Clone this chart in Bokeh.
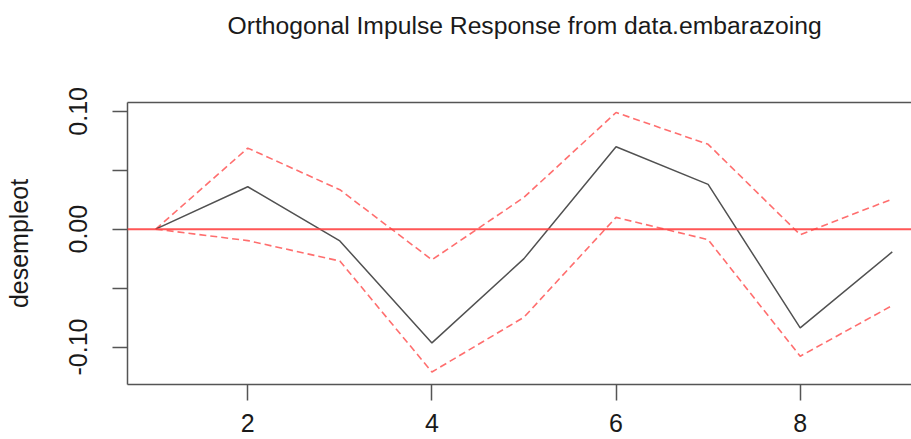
from bokeh.plotting import figure
from bokeh.models import (ColumnDataSource, Range1d, FixedTicker, LinearAxis,
                          CustomJSTickFormatter, Span)
from bokeh.embed import file_html
from bokeh.resources import INLINE

# ---- data ----
steps = [1, 2, 3, 4, 5, 6, 7, 8, 9]
irf   = [0.0, 0.036, -0.010, -0.0965, -0.025, 0.070, 0.038, -0.0837, -0.0193]
upper = [0.0, 0.0688, 0.0335, -0.026, 0.027, 0.099, 0.072, -0.0047, 0.0256]
lower = [0.0, -0.0097, -0.027, -0.1212, -0.0747, 0.010, -0.0089, -0.1078, -0.0648]
baseline = 0.0
x_ticks = [2, 4, 6, 8]
y_ticks = [-0.10, -0.05, 0.0, 0.05, 0.10]
title_text = "Orthogonal Impulse Response from data.embarazoing"
y_label = "desempleot"

FONT = "Liberation Sans"
Y_LO, Y_HI = -0.1318, 0.1075

src = ColumnDataSource(dict(x=steps, irf=irf, upper=upper, lower=lower))

p = figure(width=911, height=439, output_backend="svg", toolbar_location=None,
           x_range=Range1d(0.6937, 9.2089), y_range=Range1d(Y_LO, Y_HI),
           x_axis_location=None, y_axis_location=None,
           min_border_left=127, min_border_right=0, min_border_top=102,
           min_border_bottom=55)
p.outline_line_color = None
p.xgrid.visible = False
p.ygrid.visible = False
p.background_fill_color = "white"
p.border_fill_color = "white"

# title
p.title.text = title_text
p.title.align = "left"
p.title.offset = 100
p.title.text_font = FONT
p.title.text_font_size = "24.7px"
p.title.text_font_style = "normal"
p.title.text_color = "#1a1a1a"
p.title.standoff = 0

AX_COL = "#555555"

# bottom axis
xa = LinearAxis(ticker=FixedTicker(ticks=x_ticks))
xa.axis_line_color = AX_COL
xa.axis_line_width = 1.5
xa.major_tick_line_color = AX_COL
xa.major_tick_line_width = 1.5
xa.major_tick_in = 0
xa.major_tick_out = 16
xa.minor_tick_line_color = None
xa.major_label_standoff = 13
xa.major_label_text_line_height = 0.6
xa.major_label_text_font = FONT
xa.major_label_text_font_size = "25px"
xa.major_label_text_color = "#1a1a1a"
p.add_layout(xa, "below")

# left axis
ya = LinearAxis(ticker=FixedTicker(ticks=y_ticks))
ya.formatter = CustomJSTickFormatter(code="""
    if (Math.abs(Math.abs(tick) - 0.05) < 1e-9) { return ""; }
    return tick.toFixed(2);
""")
ya.axis_line_color = AX_COL
ya.axis_line_width = 1.5
ya.major_tick_line_color = AX_COL
ya.major_tick_line_width = 1.5
ya.major_tick_in = 0
ya.major_tick_out = 15
ya.minor_tick_line_color = None
ya.major_label_orientation = "vertical"
ya.major_label_standoff = 25
ya.major_label_text_font = FONT
ya.major_label_text_font_size = "25px"
ya.major_label_text_color = "#1a1a1a"
ya.axis_label = y_label
ya.axis_label_text_font = FONT
ya.axis_label_text_font_size = "25px"
ya.axis_label_text_font_style = "normal"
ya.axis_label_text_color = "#1a1a1a"
ya.axis_label_standoff = 34
p.add_layout(ya, "left")

# top border (plain line, no ticks) + spacer between title and box
ta = LinearAxis(ticker=FixedTicker(ticks=[]))
ta.axis_line_color = AX_COL
ta.axis_line_width = 1.5
ta.major_tick_line_color = None
ta.minor_tick_line_color = None
ta.major_label_text_font_size = "0px"
ta.major_label_standoff = 0
ta.axis_label = " "
ta.axis_label_text_font_size = "10px"
ta.axis_label_standoff = 50
p.add_layout(ta, "above")

# zero line
p.add_layout(Span(location=baseline, dimension="width", line_color="#ff4444",
                  line_width=2.0, line_alpha=0.9))

# confidence bands
p.line("x", "upper", source=src, line_color="#ff5555", line_width=1.6,
       line_dash="7 4", line_alpha=0.85)
p.line("x", "lower", source=src, line_color="#ff5555", line_width=1.6,
       line_dash="7 4", line_alpha=0.85)
# response
p.line("x", "irf", source=src, line_color="#333333", line_width=1.5, line_alpha=0.85)

open("out.html", "w").write(file_html(p, INLINE))
